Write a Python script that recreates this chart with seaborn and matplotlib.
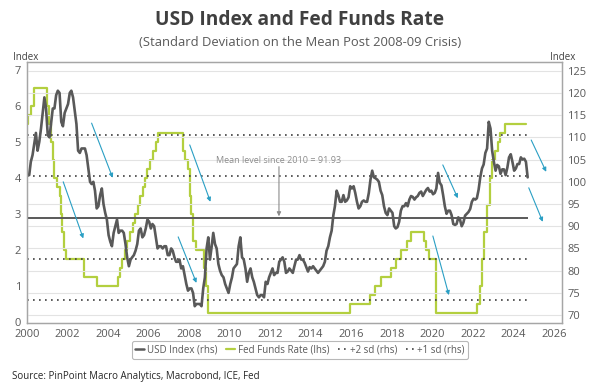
import matplotlib
matplotlib.use("Agg")
import matplotlib.pyplot as plt
from matplotlib.lines import Line2D
import seaborn as sns
import pandas as pd
import numpy as np

# ---------------- data ----------------
# US Dollar Index, monthly (Jan 2000 .. Aug 2024)
dxy_2000 = [101.5, 104.5, 106.0, 108.5, 111.0, 107.0, 109.0, 112.0, 115.5, 119.0, 116.5, 110.5]
dxy_2001 = [110.0, 113.0, 116.5, 116.5, 119.5, 120.5, 120.0, 113.5, 112.5, 115.5, 116.5, 117.5]
dxy_2002 = [120.0, 120.5, 119.0, 116.0, 113.0, 107.0, 106.5, 107.5, 107.5, 107.5, 106.0, 103.0]
dxy_2003 = [100.0, 99.5, 100.0, 98.0, 94.0, 94.5, 97.0, 98.5, 95.0, 93.0, 91.5, 88.0]
dxy_2004 = [86.5, 85.5, 88.5, 90.0, 91.5, 88.5, 89.0, 89.0, 88.5, 86.0, 83.0, 81.0]
dxy_2005 = [82.5, 83.0, 83.5, 84.5, 86.0, 89.0, 89.5, 87.5, 88.0, 89.5, 91.5, 91.0]
dxy_2006 = [89.5, 90.5, 90.0, 87.5, 85.0, 85.5, 85.5, 85.0, 85.5, 85.5, 83.5, 83.5]
dxy_2007 = [85.0, 84.5, 83.0, 82.0, 82.0, 82.5, 80.5, 81.0, 79.0, 77.0, 75.5, 76.0]
dxy_2008 = [76.0, 75.0, 72.0, 72.5, 72.5, 72.5, 72.0, 76.0, 78.5, 85.0, 87.5, 82.5]
dxy_2009 = [85.5, 88.5, 86.0, 85.0, 81.5, 80.0, 79.0, 78.5, 77.0, 76.0, 75.0, 77.0]
dxy_2010 = [78.5, 80.5, 81.0, 81.5, 85.5, 87.5, 83.0, 82.5, 80.5, 77.5, 79.5, 80.5]
dxy_2011 = [78.5, 77.5, 76.0, 74.5, 74.0, 74.5, 74.5, 74.0, 77.5, 77.0, 78.5, 79.5]
dxy_2012 = [80.5, 79.0, 79.5, 79.5, 82.0, 82.5, 83.0, 82.0, 79.5, 79.8, 80.5, 80.0]
dxy_2013 = [79.5, 81.0, 82.5, 82.5, 83.5, 82.5, 82.5, 81.8, 80.8, 79.8, 80.8, 80.5]
dxy_2014 = [81.0, 80.5, 80.0, 79.5, 80.0, 80.5, 81.0, 82.0, 84.5, 85.5, 87.5, 89.0]
dxy_2015 = [92.5, 94.5, 98.0, 97.0, 95.5, 95.5, 97.0, 95.5, 95.8, 96.5, 99.0, 98.5]
dxy_2016 = [99.0, 97.5, 95.5, 94.0, 94.5, 95.5, 95.8, 95.5, 95.5, 97.5, 100.5, 102.5]
dxy_2017 = [101.0, 100.8, 100.5, 100.0, 98.0, 97.0, 94.5, 93.0, 92.5, 94.0, 93.5, 93.0]
dxy_2018 = [90.0, 89.5, 89.8, 91.0, 93.5, 94.5, 94.5, 95.2, 94.5, 96.0, 96.8, 96.6]
dxy_2019 = [96.0, 96.5, 96.8, 97.5, 97.8, 96.8, 97.5, 98.2, 98.6, 97.8, 98.0, 97.2]
dxy_2020 = [97.5, 98.5, 102.0, 99.8, 99.2, 97.0, 94.5, 92.8, 93.5, 93.5, 92.5, 90.5]
dxy_2021 = [90.3, 90.5, 92.0, 91.5, 90.0, 90.8, 92.4, 92.8, 93.2, 93.9, 95.5, 96.2]
dxy_2022 = [96.0, 96.3, 98.2, 101.0, 103.0, 103.9, 106.5, 107.5, 113.5, 112.0, 107.0, 104.5]
dxy_2023 = [102.5, 103.8, 103.5, 101.8, 102.8, 102.8, 101.5, 103.2, 105.5, 106.2, 104.5, 102.5]
dxy_2024 = [103.0, 104.0, 104.0, 105.5, 105.0, 105.2, 104.5, 101.0]

# Fed funds target rate (upper bound), change dates and levels
ff_dates = ["2000-01-01", "2000-02-02", "2000-03-21", "2000-05-16", "2001-01-03", "2001-01-31",
            "2001-03-20", "2001-04-18", "2001-05-15", "2001-06-27", "2001-08-21", "2001-09-17",
            "2001-10-02", "2001-11-06", "2001-12-11", "2002-11-06", "2003-06-25", "2004-06-30",
            "2004-08-10", "2004-09-21", "2004-11-10", "2004-12-14", "2005-02-02", "2005-03-22",
            "2005-05-03", "2005-06-30", "2005-08-09", "2005-09-20", "2005-11-01", "2005-12-13",
            "2006-01-31", "2006-03-28", "2006-05-10", "2006-06-29", "2007-09-18", "2007-10-31",
            "2007-12-11", "2008-01-22", "2008-01-30", "2008-03-18", "2008-04-30", "2008-10-08",
            "2008-10-29", "2008-12-16", "2015-12-16", "2016-12-14", "2017-03-15", "2017-06-14",
            "2017-12-13", "2018-03-21", "2018-06-13", "2018-09-26", "2018-12-19", "2019-07-31",
            "2019-09-18", "2019-10-30", "2020-03-03", "2020-03-15", "2022-03-16", "2022-05-04",
            "2022-06-15", "2022-07-27", "2022-09-21", "2022-11-02", "2022-12-14", "2023-02-01",
            "2023-03-22", "2023-05-03", "2023-07-26", "2024-08-15"]
ff_rates = [5.50, 5.75, 6.00, 6.50, 6.00, 5.50,
            5.00, 4.50, 4.00, 3.75, 3.50, 3.00,
            2.50, 2.00, 1.75, 1.25, 1.00, 1.25,
            1.50, 1.75, 2.00, 2.25, 2.50, 2.75,
            3.00, 3.25, 3.50, 3.75, 4.00, 4.25,
            4.50, 4.75, 5.00, 5.25, 4.75, 4.50,
            4.25, 3.50, 3.00, 2.25, 2.00, 1.50,
            1.00, 0.25, 0.50, 0.75, 1.00, 1.25,
            1.50, 1.75, 2.00, 2.25, 2.50, 2.25,
            2.00, 1.75, 1.25, 0.25, 0.50, 1.00,
            1.75, 2.50, 3.25, 4.00, 4.50, 4.75,
            5.00, 5.25, 5.50, 5.50]

mean_level = 91.93
sd_level = 9.3
sd_multiples = [2, 1, -1, -2]

x_ticks = list(range(2000, 2027, 2))
left_ticks = list(range(0, 8))
right_ticks = list(range(70, 126, 5))

title = "USD Index and Fed Funds Rate"
subtitle = "(Standard Deviation on the Mean Post 2008-09 Crisis)"
source = "Source: PinPoint Macro Analytics, Macrobond, ICE, Fed"
mean_text = "Mean level since 2010 = 91.93"
legend_labels = ["USD Index (rhs)", "Fed Funds Rate (lhs)", "+2 sd (rhs)", "+1 sd (rhs)"]

# decorative trend arrows (year, rhs index) start -> end
trend_arrows = [(2003.20, 113.2, 2004.24, 100.9), (2001.80, 100.0, 2002.79, 87.25),
                (2008.04, 108.3, 2009.06, 95.5), (2007.47, 87.6, 2008.37, 77.25),
                (2020.52, 103.8, 2021.26, 96.3), (2020.03, 87.8, 2020.82, 74.5),
                (2024.88, 109.4, 2025.62, 102.25), (2024.76, 98.65, 2025.45, 91.0)]

# ---------------- helpers ----------------
def to_decimal_year(ts):
    ts = pd.DatetimeIndex(ts)
    days = np.where(ts.is_leap_year, 366.0, 365.0)
    return ts.year + (ts.dayofyear - 1) / days

dxy_vals = (dxy_2000 + dxy_2001 + dxy_2002 + dxy_2003 + dxy_2004 + dxy_2005 + dxy_2006 +
            dxy_2007 + dxy_2008 + dxy_2009 + dxy_2010 + dxy_2011 + dxy_2012 + dxy_2013 +
            dxy_2014 + dxy_2015 + dxy_2016 + dxy_2017 + dxy_2018 + dxy_2019 + dxy_2020 +
            dxy_2021 + dxy_2022 + dxy_2023 + dxy_2024)
dxy_dates = pd.date_range("2000-01-15", periods=len(dxy_vals), freq="MS") + pd.Timedelta(days=14)
dxy_df = pd.DataFrame({"x": to_decimal_year(dxy_dates), "v": dxy_vals})
ff_df = pd.DataFrame({"x": to_decimal_year(pd.to_datetime(ff_dates)), "v": ff_rates})
x_start = 2000.0
x_end = float(dxy_df["x"].iloc[-1])

# ---------------- style ----------------
sns.set_theme(style="white")
plt.rcParams["font.family"] = ["Open Sans", "DejaVu Sans"]

GRAY = "#595959"
GREEN = "#b3cf3f"
TEAL = "#2a9fc4"
SPINE = "#a6a6a6"

fig = plt.figure(figsize=(5.95, 3.82), dpi=100)
ax = fig.add_axes([0.0449, 0.155, 0.899, 0.682])
ax2 = ax.twinx()

# Fed funds (lhs)
sns.lineplot(data=ff_df, x="x", y="v", ax=ax, color=GREEN, lw=1.6,
             drawstyle="steps-post", estimator=None)
# USD index (rhs)
sns.lineplot(data=dxy_df, x="x", y="v", ax=ax2, color=GRAY, lw=1.9, estimator=None)

# mean and sd lines
ax2.hlines(mean_level, x_start, x_end, color=GRAY, lw=1.4, zorder=1)
for k in sd_multiples:
    ax2.hlines(mean_level + k * sd_level, x_start, x_end, color="#3f3f3f",
               lw=1.2, linestyles=[(0, (1, 2.6))], zorder=1)

# axes limits and ticks
ax.set_xlim(2000, 2026.38)
ax.set_ylim(-0.03, 7.22)
ax2.set_ylim(68.27, 126.9)
ax.set_xticks(x_ticks)
ax.set_yticks(left_ticks)
ax2.set_yticks(right_ticks)
ax2.grid(axis="y", color="#e3e3e3", lw=0.8)
ax.grid(False)
for a in (ax, ax2):
    a.set_xlabel("")
    a.set_ylabel("")
    for s in a.spines.values():
        s.set_color(SPINE)
        s.set_linewidth(0.9)
        s.set_visible(True)
ax.tick_params(axis="x", colors=GRAY, labelsize=8, length=3, width=0.8, pad=1.5, color=SPINE)
ax.tick_params(axis="y", colors=GRAY, labelsize=8, length=0, pad=4)
ax2.tick_params(axis="y", colors=GRAY, labelsize=8, length=0, pad=4)

# annotations
for (x0, y0, x1, y1) in trend_arrows:
    ax2.annotate("", xy=(x1, y1), xytext=(x0, y0),
                 arrowprops=dict(arrowstyle="-|>", color=TEAL, lw=0.8,
                                 mutation_scale=6, shrinkA=0, shrinkB=0))
ax2.text(2012.44, 104.9, mean_text, ha="center", va="center", fontsize=6.5, color="#8c8c8c")
ax2.annotate("", xy=(2012.44, mean_level + 0.3), xytext=(2012.44, 103.4),
             arrowprops=dict(arrowstyle="-|>", color="#8c8c8c", lw=0.8,
                             mutation_scale=6, shrinkA=0, shrinkB=0))

# titles and labels
fig.text(300 / 595, 1 - 20 / 382, title, ha="center", va="center",
         fontsize=13.8, fontweight="bold", color="#404040")
fig.text(300 / 595, 1 - 43 / 382, subtitle, ha="center", va="center",
         fontsize=9.4, color=GRAY)
fig.text(26 / 595, 1 - 57 / 382, "Index", ha="center", va="center", fontsize=7, color="#404040")
fig.text(563 / 595, 1 - 57 / 382, "Index", ha="center", va="center", fontsize=7, color="#404040")
fig.text(12 / 595, 1 - 376 / 382, source, ha="left", va="center", fontsize=7, color="#262626")

handles = [Line2D([], [], color=GRAY, lw=1.8),
           Line2D([], [], color=GREEN, lw=1.6),
           Line2D([], [], color="#3f3f3f", lw=1.2, ls=(0, (1, 2.6))),
           Line2D([], [], color="#3f3f3f", lw=1.2, ls=(0, (1, 2.6)))]
leg = fig.legend(handles, legend_labels, loc="center", bbox_to_anchor=(300 / 595, 1 - 350 / 382),
                 ncol=4, fontsize=7, frameon=True, handlelength=0.9, handletextpad=0.3,
                 columnspacing=0.9, borderpad=0.35, fancybox=True, edgecolor=SPINE)
for t in leg.get_texts():
    t.set_color(GRAY)
leg.get_frame().set_linewidth(0.8)

fig.savefig("out.png", dpi=100)
